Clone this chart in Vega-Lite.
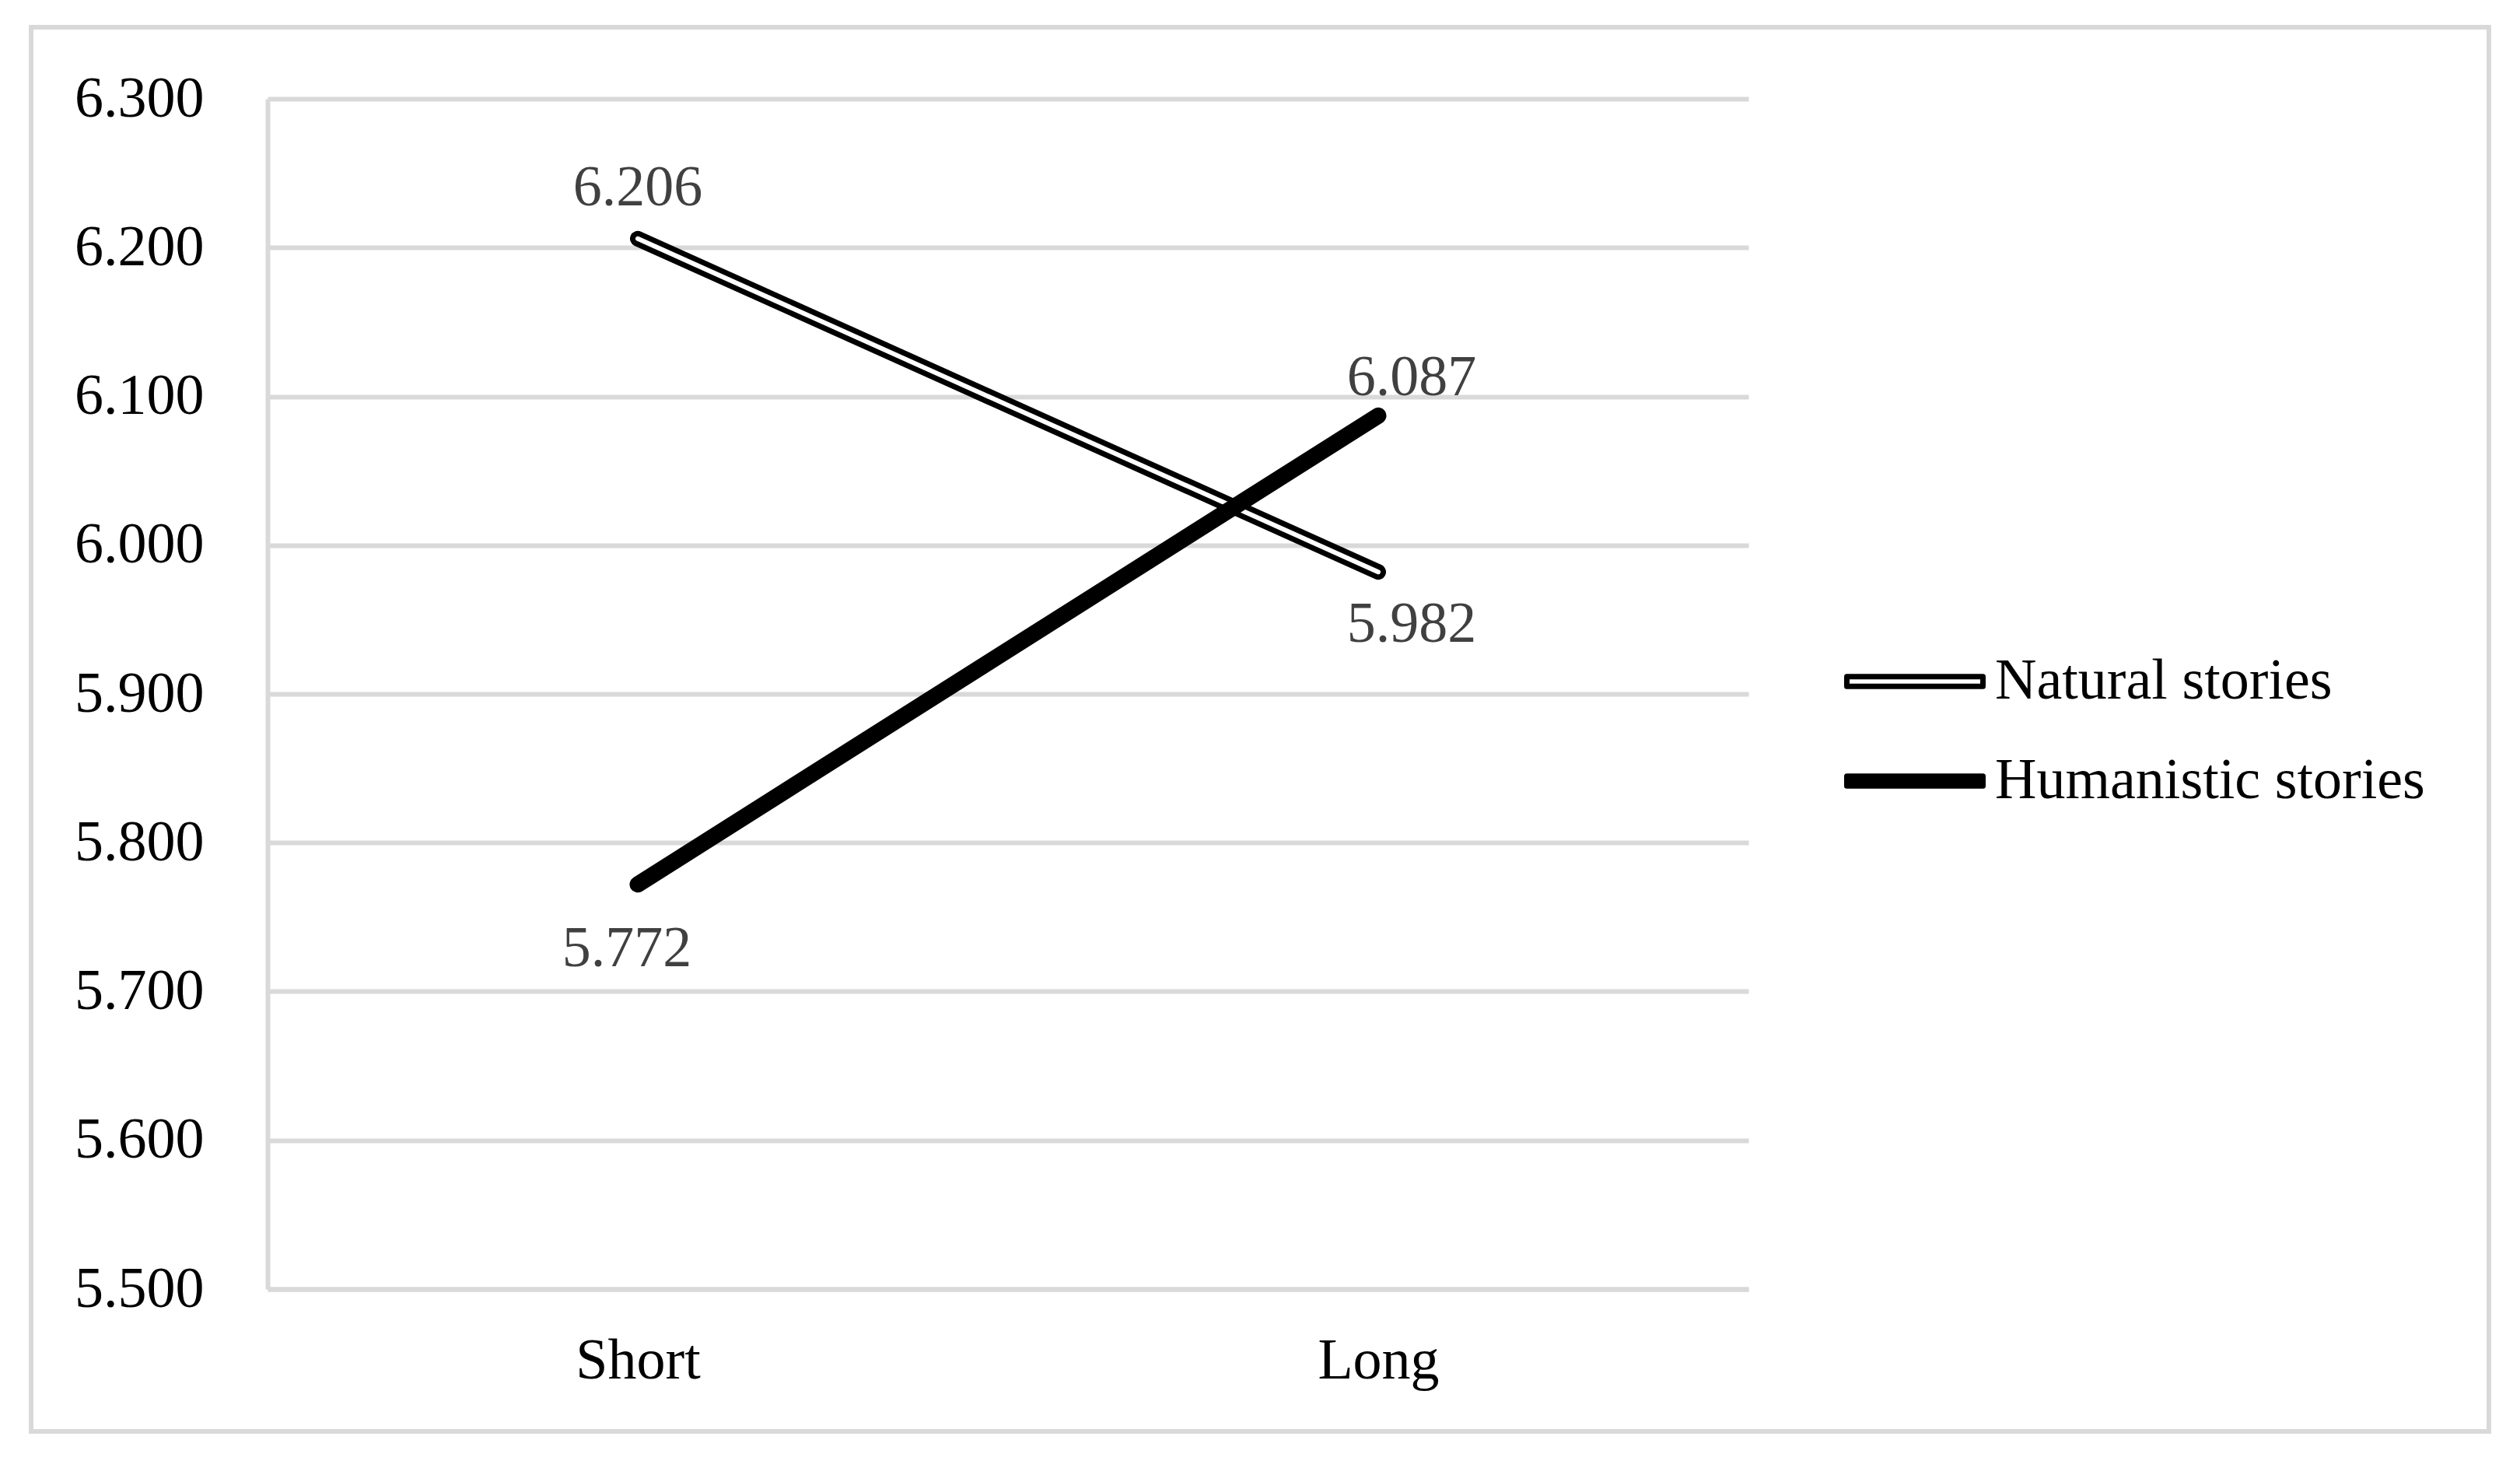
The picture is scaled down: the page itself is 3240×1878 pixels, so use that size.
{
  "$schema": "https://vega.github.io/schema/vega-lite/v6.json",
  "width": 3160,
  "height": 1805,
  "autosize": "none",
  "padding": {"left": 40, "top": 35, "right": 40, "bottom": 38},
  "background": "white",
  "data": {
    "values": [
      {"length": "Short", "story": "Natural stories", "score": 6.206},
      {"length": "Long", "story": "Natural stories", "score": 5.982},
      {"length": "Short", "story": "Humanistic stories", "score": 5.772},
      {"length": "Long", "story": "Humanistic stories", "score": 6.087}
    ]
  },
  "encoding": {
    "x": {
      "field": "length",
      "type": "ordinal",
      "sort": ["Short", "Long"],
      "scale": {"type": "point", "domain": ["Short", "Long"], "range": [304, 2208], "padding": 0.5},
      "axis": {"title": null, "offset": -183, "ticks": false, "grid": false, "labelAngle": 0, "labelPadding": 56, "domainColor": "#d9d9d9", "domainWidth": 6}
    },
    "y": {
      "field": "score",
      "type": "quantitative",
      "scale": {"domain": [5.5, 6.3], "range": [1622, 92], "nice": false, "zero": false},
      "axis": {
        "title": null,
        "offset": -304,
        "values": [5.5, 5.6, 5.7, 5.8, 5.9, 6.0, 6.1, 6.2, 6.3],
        "format": ".3f",
        "ticks": false,
        "labelPadding": 82,
        "domainColor": "#d9d9d9",
        "domainWidth": 6,
        "gridColor": "#d9d9d9",
        "gridWidth": 6
      }
    }
  },
  "layer": [
    {
      "transform": [{"filter": "datum.story === 'Natural stories'"}],
      "mark": {"type": "line", "strokeWidth": 20, "strokeCap": "round"},
      "encoding": {
        "color": {
          "field": "story",
          "type": "nominal",
          "scale": {"domain": ["Natural stories", "Humanistic stories"], "range": ["black", "black"]},
          "legend": {
            "title": null,
            "orient": "none",
            "legendX": 2331,
            "legendY": 750,
            "padding": 0,
            "symbolType": "M-1,-0.071H1V0.071H-1Z",
            "symbolSize": 30625,
            "symbolStrokeWidth": 7,
            "labelOffset": 12,
            "rowPadding": -40,
            "labelFont": "Liberation Serif",
            "labelFontSize": 74,
            "labelColor": "black",
            "labelLimit": 0,
            "encode": {
              "symbols": {
                "update": {
                  "fill": {"signal": "datum.value === 'Natural stories' ? 'white' : 'black'"},
                  "stroke": {"value": "black"},
                  "strokeWidth": {"value": 7},
                  "strokeJoin": {"value": "round"},
                  "opacity": {"value": 1}
                }
              }
            }
          }
        }
      }
    },
    {
      "transform": [{"filter": "datum.story === 'Natural stories'"}],
      "mark": {"type": "line", "strokeWidth": 6, "strokeCap": "round", "color": "white"}
    },
    {
      "transform": [{"filter": "datum.story === 'Humanistic stories'"}],
      "mark": {"type": "line", "strokeWidth": 21, "strokeCap": "round"},
      "encoding": {
        "color": {"field": "story", "type": "nominal"}
      }
    },
    {
      "transform": [
        {"joinaggregate": [{"op": "max", "field": "score", "as": "top"}], "groupby": ["length"]},
        {"calculate": "datum.score === datum.top", "as": "above"}
      ],
      "mark": {
        "type": "text",
        "font": "Liberation Serif",
        "fontSize": 74,
        "color": "#404040",
        "baseline": "middle",
        "dx": {"expr": "datum.length === 'Long' ? 43 : (datum.above ? 0 : -14)"},
        "dy": {"expr": "datum.above ? (datum.length === 'Long' ? -48 : -65) : (datum.length === 'Long' ? 68 : 83)"}
      },
      "encoding": {
        "text": {"field": "score", "type": "quantitative", "format": ".3f"}
      }
    }
  ],
  "config": {
    "view": {"stroke": "#d9d9d9", "strokeWidth": 6},
    "axis": {"labelFont": "Liberation Serif", "labelFontSize": 74, "labelColor": "black"}
  }
}
